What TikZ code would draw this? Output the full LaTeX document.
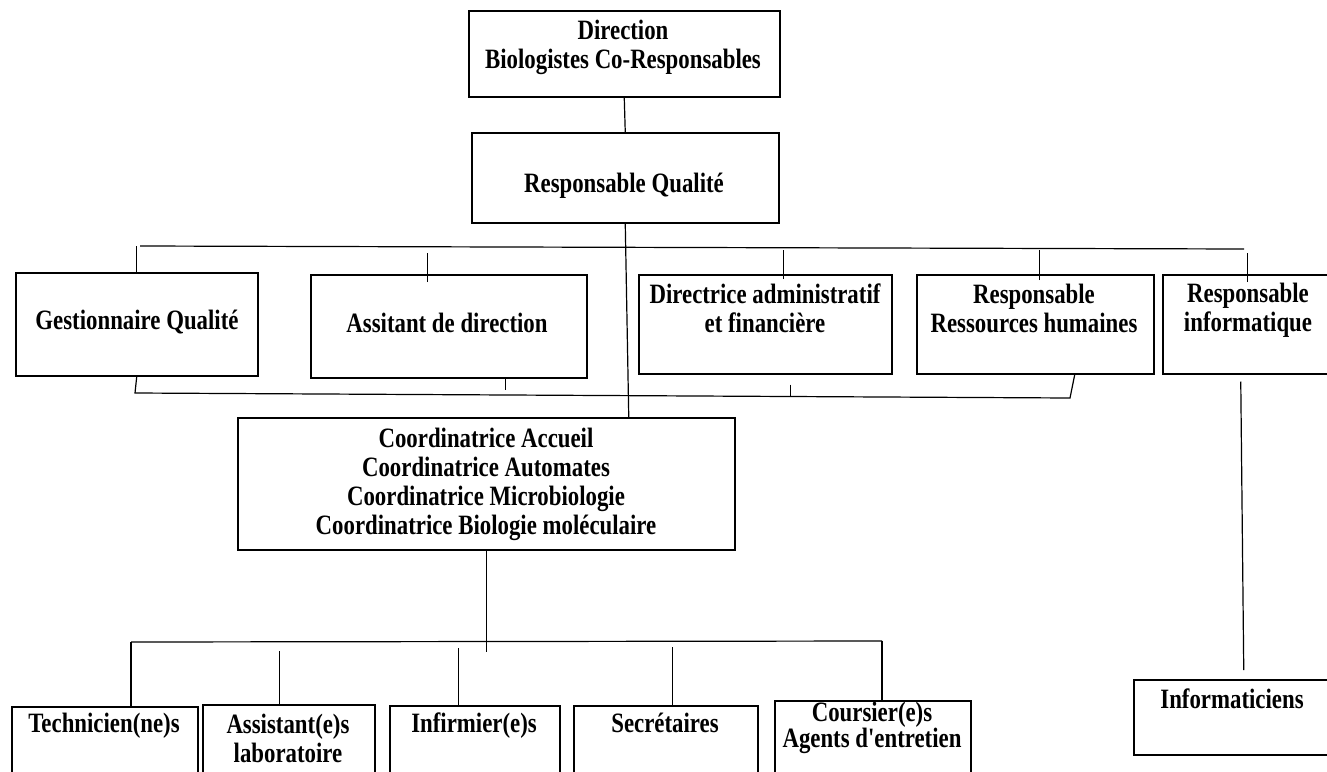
\documentclass[tikz,border=0pt]{standalone}
\usepackage{fontspec}
\setmainfont{Liberation Serif}[FakeStretch=0.815,Ligatures=TeXOff]
\usetikzlibrary{calc,positioning}
\tikzset{box/.style 2 args={draw,line width=1.5pt,anchor=north west,inner sep=0pt,minimum width=#1,minimum height=#2},
  lbl/.style={font=\bfseries\fontsize{28}{29}\selectfont,align=center,inner sep=0pt,anchor=base},
  link/.style={line width=1.2pt}}

\begin{document}
\begin{tikzpicture}[x=1pt,y=-1pt]
% y runs downwards, one unit = one pixel of the page
\useasboundingbox (0,0) rectangle (1327,771);
\node[box={311pt}{86pt}] (dir) at (468,10) {};
\node[box={307pt}{90pt}] (rq) at (471,132) {};
\node[box={242pt}{103pt}] (gq) at (15,272) {};
\node[box={276pt}{103pt}] (ad) at (310,274) {};
\node[box={253pt}{99pt}] (daf) at (638,274) {};
\node[box={237pt}{99pt}] (rrh) at (916,274) {};
\node[box={180pt}{99pt}] (ri) at (1162,274) {};
\node[box={497pt}{132pt}] (coord) at (237,417) {};
\node[box={186pt}{90pt}] (tech) at (11,706) {};
\node[box={172pt}{90pt}] (asl) at (202,704) {};
\node[box={170pt}{90pt}] (inf) at (389,705) {};
\node[box={184pt}{90pt}] (sec) at (573,705) {};
\node[box={196pt}{90pt}] (cour) at (774,700) {};
\node[box={210pt}{75pt}] (info) at (1133,679) {};
% labels, placed on the baseline of their last line
\node[lbl] (dir-t) at (623,68) {Direction\\Biologistes Co-Responsables};
\node[lbl] (rq-t) at (624,192) {Responsable Qualité};
\node[lbl] (gq-t) at (137,329) {Gestionnaire Qualité};
\node[lbl] (ad-t) at (447,332) {Assitant de direction};
\node[lbl] (daf-t) at (765,332) {Directrice administratif\\et financière};
\node[lbl] (rrh-t) at (1034,332) {Responsable\\Ressources humaines};
\node[lbl] (ri-t) at (1248,331) {Responsable\\informatique};
\node[lbl] (coord-t) at (486,534) {Coordinatrice Accueil\\Coordinatrice  Automates\\Coordinatrice  Microbiologie\\Coordinatrice Biologie moléculaire};
\node[lbl] (tech-t) at (104,732) {Technicien(ne)s};
\node[lbl] (asl-t) at (288,762) {Assistant(e)s\\laboratoire};
\node[lbl] (inf-t) at (474,732) {Infirmier(e)s};
\node[lbl] (sec-t) at (665,732) {Secrétaires};
\node[lbl] (cour-t) at (872,747) {Coursier(e)s\\[-3pt]Agents d'entretien};
\node[lbl] (info-t) at (1232,708) {Informaticiens};
% buses
\coordinate (b1l) at (140,246); \coordinate (b1r) at (1244,249);
\coordinate (b2l) at (135,393); \coordinate (b2r) at (1070,398);
\coordinate (b3l) at (131,642); \coordinate (b3r) at (882,641);
\draw[link] (dir.south) -- (rq.north);
\draw[link] (rq.south) -- ([xshift=3.5pt]rq.south |- coord.north);
\draw[link] (b1l) -- (b1r);
\draw[link] (gq.north) -- (gq.north |- b1l);
\draw[link] ([xshift=-21pt,yshift=-8pt]ad.north) -- ++(0,-29);
\draw[link] ([xshift=18.5pt,yshift=-5pt]daf.north) -- ++(0,-29);
\draw[link] ([xshift=4.5pt,yshift=-6pt]rrh.north) -- ++(0,-30);
\draw[link] ([xshift=-5pt,yshift=-8pt]ri.north) -- ++(0,-29);
\draw[link] (gq.south) -- (b2l) -- (b2r) -- ([xshift=39.5pt]rrh.south);
\draw[link] ([xshift=57pt]ad.south) -- ++(0,11);
\draw[link] ([xshift=25.5pt,yshift=-10pt]daf.south) -- ++(0,11);
\draw[link] ([xshift=-12pt,yshift=-7pt]ri.south) -- ([xshift=5pt,yshift=9pt]info.north);
\draw[link] (coord.south) -- ++(0,101);
\draw[link] (b3l) -- (b3r);
\draw[link] (b3l) -- (b3l |- tech.north);
\draw[link] (b3r) -- (b3r |- cour.north);
\foreach \n/\dx/\len in {asl/-9/53,inf/-16/57,sec/7/58}
  \draw[link] ([xshift=\dx pt]\n.north) -- ++(0,-\len);
\end{tikzpicture}
\end{document}
